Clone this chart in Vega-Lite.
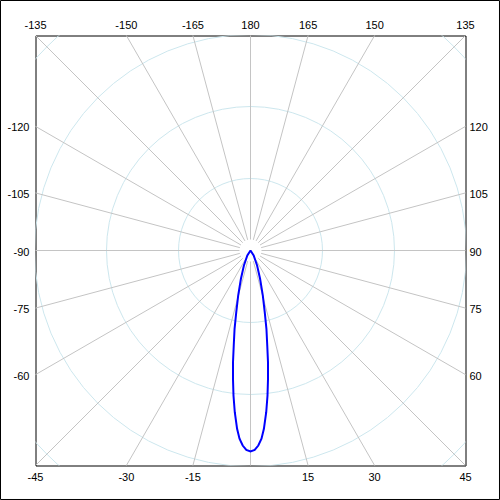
{
  "$schema": "https://vega.github.io/schema/vega-lite/v6.json",
  "width": 430,
  "height": 430,
  "padding": {"left": 35.5, "top": 35.5, "right": 34.5, "bottom": 34.5},
  "autosize": {"type": "none"},
  "background": "white",
  "config": {
    "view": {"stroke": "black", "strokeWidth": 1},
    "text": {"font": "Liberation Sans", "fontSize": 11, "color": "black"}
  },
  "datasets": {
    "spokes": [
      {"angle": -165}, {"angle": -150}, {"angle": -135}, {"angle": -120}, {"angle": -105}, {"angle": -90},
      {"angle": -75}, {"angle": -60}, {"angle": -45}, {"angle": -30}, {"angle": -15}, {"angle": 0},
      {"angle": 15}, {"angle": 30}, {"angle": 45}, {"angle": 60}, {"angle": 75}, {"angle": 90},
      {"angle": 105}, {"angle": 120}, {"angle": 135}, {"angle": 150}, {"angle": 165}, {"angle": 180}
    ],
    "rings": [{"r": 10}, {"r": 20}, {"r": 30}, {"r": 40}],
    "labels": [
      {"angle": -135, "label": "-135", "side": "top"},
      {"angle": -150, "label": "-150", "side": "top"},
      {"angle": -165, "label": "-165", "side": "top"},
      {"angle": 180, "label": "180", "side": "top"},
      {"angle": 165, "label": "165", "side": "top"},
      {"angle": 150, "label": "150", "side": "top"},
      {"angle": 135, "label": "135", "side": "top"},
      {"angle": -45, "label": "-45", "side": "bottom"},
      {"angle": -30, "label": "-30", "side": "bottom"},
      {"angle": -15, "label": "-15", "side": "bottom"},
      {"angle": 15, "label": "15", "side": "bottom"},
      {"angle": 30, "label": "30", "side": "bottom"},
      {"angle": 45, "label": "45", "side": "bottom"},
      {"angle": -120, "label": "-120", "side": "left"},
      {"angle": -105, "label": "-105", "side": "left"},
      {"angle": -90, "label": "-90", "side": "left"},
      {"angle": -75, "label": "-75", "side": "left"},
      {"angle": -60, "label": "-60", "side": "left"},
      {"angle": 120, "label": "120", "side": "right"},
      {"angle": 105, "label": "105", "side": "right"},
      {"angle": 90, "label": "90", "side": "right"},
      {"angle": 75, "label": "75", "side": "right"},
      {"angle": 60, "label": "60", "side": "right"}
    ],
    "pattern": [
      {"theta": -40, "r": 0},
      {"theta": -32.6, "r": 0.82},
      {"theta": -23.7, "r": 2.28},
      {"theta": -18.7, "r": 4.15},
      {"theta": -15.3, "r": 6.49},
      {"theta": -13.0, "r": 8.79},
      {"theta": -11.5, "r": 11.1},
      {"theta": -10.0, "r": 13.4},
      {"theta": -8.9, "r": 15.71},
      {"theta": -7.77, "r": 17.99},
      {"theta": -6.69, "r": 20.28},
      {"theta": -5.55, "r": 22.57},
      {"theta": -4.3, "r": 24.83},
      {"theta": -3.34, "r": 26.19},
      {"theta": -2.29, "r": 27.11},
      {"theta": -1.2, "r": 27.71},
      {"theta": 0, "r": 27.92},
      {"theta": 1.2, "r": 27.71},
      {"theta": 2.29, "r": 27.11},
      {"theta": 3.34, "r": 26.19},
      {"theta": 4.3, "r": 24.83},
      {"theta": 5.55, "r": 22.57},
      {"theta": 6.69, "r": 20.28},
      {"theta": 7.77, "r": 17.99},
      {"theta": 8.9, "r": 15.71},
      {"theta": 10.0, "r": 13.4},
      {"theta": 11.5, "r": 11.1},
      {"theta": 13.0, "r": 8.79},
      {"theta": 15.3, "r": 6.49},
      {"theta": 18.7, "r": 4.15},
      {"theta": 23.7, "r": 2.28},
      {"theta": 32.6, "r": 0.82},
      {"theta": 40, "r": 0}
    ]
  },
  "layer": [
    {
      "data": {"name": "rings"},
      "mark": {"type": "arc", "theta": 0, "theta2": 6.2832, "filled": false, "stroke": "#cde7ee", "strokeWidth": 1, "clip": true},
      "encoding": {
        "radius": {"field": "r", "type": "quantitative", "stack": null, "scale": {"type": "linear", "domain": [0, 29.861], "range": [0, 215], "zero": true}}
      }
    },
    {
      "data": {"name": "spokes"},
      "transform": [
        {"calculate": "datum.angle * PI / 180", "as": "a"},
        {"calculate": "1.53 * sin(datum.a)", "as": "x1"},
        {"calculate": "-1.53 * cos(datum.a)", "as": "y1"},
        {"calculate": "60 * sin(datum.a)", "as": "x2"},
        {"calculate": "-60 * cos(datum.a)", "as": "y2"}
      ],
      "mark": {"type": "rule", "color": "#c4c4c4", "strokeWidth": 1, "clip": true},
      "encoding": {
        "x": {"field": "x1", "type": "quantitative", "scale": {"domain": [-29.861, 29.861], "nice": false, "zero": false}, "axis": null},
        "y": {"field": "y1", "type": "quantitative", "scale": {"domain": [-29.861, 29.861], "nice": false, "zero": false}, "axis": null},
        "x2": {"field": "x2"},
        "y2": {"field": "y2"}
      }
    },
    {
      "data": {"name": "pattern"},
      "transform": [
        {"calculate": "datum.theta * PI / 180", "as": "a"},
        {"calculate": "datum.r * sin(datum.a)", "as": "px"},
        {"calculate": "-datum.r * cos(datum.a)", "as": "py"}
      ],
      "mark": {"type": "line", "color": "#0000ff", "strokeWidth": 2, "clip": true},
      "encoding": {
        "x": {"field": "px", "type": "quantitative", "scale": {"domain": [-29.861, 29.861], "nice": false, "zero": false}, "axis": null},
        "y": {"field": "py", "type": "quantitative", "scale": {"domain": [-29.861, 29.861], "nice": false, "zero": false}, "axis": null},
        "order": {"field": "theta", "type": "quantitative"}
      }
    },
    {
      "data": {"name": "labels"},
      "transform": [
        {"filter": "datum.side == 'top'"},
        {"calculate": "datum.angle * PI / 180", "as": "a"},
        {"calculate": "29.861 / max(abs(sin(datum.a)), abs(cos(datum.a)))", "as": "t"},
        {"calculate": "datum.t * sin(datum.a)", "as": "tx"},
        {"calculate": "-datum.t * cos(datum.a)", "as": "ty"}
      ],
      "mark": {"type": "text", "align": "center", "baseline": "middle", "dy": -10},
      "encoding": {
        "x": {"field": "tx", "type": "quantitative", "scale": {"domain": [-29.861, 29.861], "nice": false, "zero": false}, "axis": null},
        "y": {"field": "ty", "type": "quantitative", "scale": {"domain": [-29.861, 29.861], "nice": false, "zero": false}, "axis": null},
        "text": {"field": "label"}
      }
    },
    {
      "data": {"name": "labels"},
      "transform": [
        {"filter": "datum.side == 'bottom'"},
        {"calculate": "datum.angle * PI / 180", "as": "a"},
        {"calculate": "29.861 / max(abs(sin(datum.a)), abs(cos(datum.a)))", "as": "t"},
        {"calculate": "datum.t * sin(datum.a)", "as": "tx"},
        {"calculate": "-datum.t * cos(datum.a)", "as": "ty"}
      ],
      "mark": {"type": "text", "align": "center", "baseline": "middle", "dy": 12},
      "encoding": {
        "x": {"field": "tx", "type": "quantitative", "scale": {"domain": [-29.861, 29.861], "nice": false, "zero": false}, "axis": null},
        "y": {"field": "ty", "type": "quantitative", "scale": {"domain": [-29.861, 29.861], "nice": false, "zero": false}, "axis": null},
        "text": {"field": "label"}
      }
    },
    {
      "data": {"name": "labels"},
      "transform": [
        {"filter": "datum.side == 'left'"},
        {"calculate": "datum.angle * PI / 180", "as": "a"},
        {"calculate": "29.861 / max(abs(sin(datum.a)), abs(cos(datum.a)))", "as": "t"},
        {"calculate": "datum.t * sin(datum.a)", "as": "tx"},
        {"calculate": "-datum.t * cos(datum.a)", "as": "ty"}
      ],
      "mark": {"type": "text", "align": "right", "baseline": "middle", "dx": -6, "dy": 2},
      "encoding": {
        "x": {"field": "tx", "type": "quantitative", "scale": {"domain": [-29.861, 29.861], "nice": false, "zero": false}, "axis": null},
        "y": {"field": "ty", "type": "quantitative", "scale": {"domain": [-29.861, 29.861], "nice": false, "zero": false}, "axis": null},
        "text": {"field": "label"}
      }
    },
    {
      "data": {"name": "labels"},
      "transform": [
        {"filter": "datum.side == 'right'"},
        {"calculate": "datum.angle * PI / 180", "as": "a"},
        {"calculate": "29.861 / max(abs(sin(datum.a)), abs(cos(datum.a)))", "as": "t"},
        {"calculate": "datum.t * sin(datum.a)", "as": "tx"},
        {"calculate": "-datum.t * cos(datum.a)", "as": "ty"}
      ],
      "mark": {"type": "text", "align": "left", "baseline": "middle", "dx": 4, "dy": 2},
      "encoding": {
        "x": {"field": "tx", "type": "quantitative", "scale": {"domain": [-29.861, 29.861], "nice": false, "zero": false}, "axis": null},
        "y": {"field": "ty", "type": "quantitative", "scale": {"domain": [-29.861, 29.861], "nice": false, "zero": false}, "axis": null},
        "text": {"field": "label"}
      }
    },
    {
      "data": {"values": [{}]},
      "mark": {"type": "rect", "filled": false, "stroke": "black", "strokeWidth": 1, "clip": false},
      "encoding": {
        "x": {"datum": -34.722, "type": "quantitative", "scale": {"domain": [-29.861, 29.861], "nice": false, "zero": false}, "axis": null},
        "x2": {"datum": 34.583},
        "y": {"datum": 34.722, "type": "quantitative", "scale": {"domain": [-29.861, 29.861], "nice": false, "zero": false}, "axis": null},
        "y2": {"datum": -34.583}
      }
    }
  ]
}
